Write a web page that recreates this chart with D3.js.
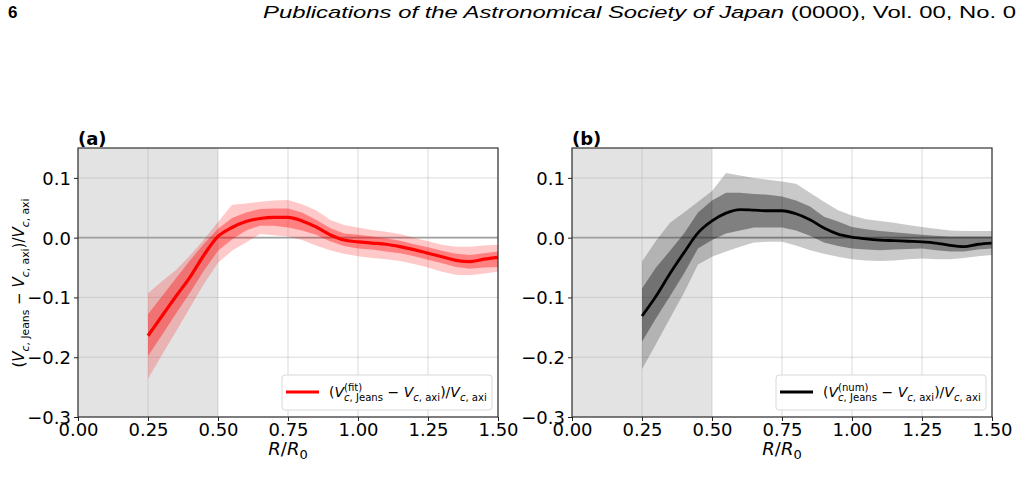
<!DOCTYPE html>
<html lang="en">
<head>
<meta charset="utf-8">
<title>Vc Jeans vs axi</title>
<script src="https://d3js.org/d3.v7.min.js"></script>
<style>
  body { margin: 0; background: #fff; }
  svg text { font-family: "DejaVu Sans", sans-serif; fill: #000; white-space: pre; }
  .hdr text { font-family: "Liberation Sans", Arial, sans-serif; }
  .axis path { display: none; }
  .axis line { stroke: #222; stroke-width: 1; }
</style>
</head>
<body>
<svg id="chart"></svg>
<script>
// ---------------- data ----------------
var rVals = [0.25,0.30,0.35,0.40,0.45,0.50,0.55,0.60,0.65,0.70,0.75,0.80,0.85,
             0.90,0.95,1.00,1.05,1.10,1.15,1.20,1.25,1.30,1.35,1.40,1.45,1.50]

// (a) fit
var fitMid   = [-0.164,-0.131,-0.098,-0.066,-0.029,0.002,0.017,0.027,0.032,0.034,0.034,0.028,0.018,
                0.005,-0.004,-0.007,-0.009,-0.011,-0.015,-0.020,-0.026,-0.032,-0.038,-0.040,-0.036,-0.033]
var fitIn1Hi = [-0.128,-0.098,-0.068,-0.038,-0.010,0.015,0.033,0.042,0.048,0.049,0.049,0.042,0.030,
                0.016,0.007,0.005,0.002,-0.001,-0.005,-0.011,-0.016,-0.022,-0.027,-0.029,-0.026,-0.023]
var fitIn1Lo = [-0.198,-0.163,-0.127,-0.092,-0.055,-0.022,-0.003,0.012,0.020,0.020,0.017,0.012,0.005,
                -0.006,-0.014,-0.018,-0.020,-0.023,-0.026,-0.031,-0.037,-0.043,-0.049,-0.052,-0.050,-0.049]
var fitIn2Hi = [-0.093,-0.073,-0.054,-0.030,-0.003,0.026,0.055,0.057,0.060,0.062,0.063,0.056,0.046,
                0.030,0.021,0.017,0.013,0.010,0.006,0.000,-0.006,-0.012,-0.015,-0.015,-0.013,-0.012]
var fitIn2Lo = [-0.236,-0.196,-0.157,-0.117,-0.077,-0.042,-0.022,-0.008,0.006,0.004,0.002,-0.004,-0.013,
                -0.021,-0.027,-0.031,-0.034,-0.036,-0.039,-0.044,-0.050,-0.057,-0.062,-0.063,-0.060,-0.057]

// (b) num
var numMid   = [-0.131,-0.098,-0.060,-0.025,0.008,0.028,0.041,0.047,0.046,0.045,0.045,0.040,0.030,
                0.016,0.006,0.001,-0.002,-0.004,-0.005,-0.006,-0.007,-0.009,-0.013,-0.015,-0.011,-0.009]
var numIn1Hi = [-0.085,-0.050,-0.022,0.007,0.042,0.062,0.075,0.075,0.073,0.072,0.069,0.062,0.052,
                0.035,0.027,0.018,0.014,0.011,0.009,0.007,0.005,0.003,0.002,0.002,0.002,0.002]
var numIn1Lo = [-0.174,-0.135,-0.098,-0.060,-0.018,-0.004,0.007,0.012,0.017,0.017,0.017,0.012,0.003,
                -0.008,-0.014,-0.018,-0.020,-0.021,-0.020,-0.019,-0.018,-0.021,-0.023,-0.023,-0.020,-0.018]
var numIn2Hi = [-0.040,-0.005,0.025,0.042,0.060,0.078,0.108,0.104,0.100,0.097,0.094,0.090,0.075,
                0.060,0.046,0.037,0.031,0.028,0.025,0.021,0.018,0.015,0.012,0.011,0.011,0.011]
var numIn2Lo = [-0.220,-0.178,-0.135,-0.092,-0.045,-0.032,-0.023,-0.015,-0.008,-0.007,-0.007,-0.013,-0.021,
                -0.027,-0.032,-0.036,-0.038,-0.039,-0.038,-0.036,-0.035,-0.036,-0.036,-0.034,-0.031,-0.029]

var xTicks = [0, 0.25, 0.5, 0.75, 1.0, 1.25, 1.5]
var yTicks = [-0.3, -0.2, -0.1, 0.0, 0.1]
var shadeRange = [0, 0.5]

// ---------------- layout ----------------
var W = 1022, H = 479
var svg = d3.select("#chart").attr("width", W).attr("height", H)

var panelTop = 148, panelBottom = 417, panelW = 420

var xFmt = d3.format(".2f")
var yFmt = d3.format(".1f")

// helper: write a run of text pieces left to right, returns total width
// piece: {t, size, dy, it} ; stack: {stack:[pieceSup, pieceSub]}
function writeRun(g, x0, y0, pieces) {
	var x = x0
	pieces.forEach(function(p) {
		var parts = p.stack ? p.stack : [p]
		var adv = 0
		parts.forEach(function(q) {
			var t = g.append("text")
				.attr("x", x).attr("y", y0 + (q.dy || 0))
				.style("font-size", q.size + "px")
			var segs = Array.isArray(q.t) ? q.t : [[q.t, q.it]]
			segs.forEach(function(s) {
				t.append("tspan").text(s[0]).style("font-style", s[1] ? "italic" : "normal")
			})
			var len = t.node().getComputedTextLength()
			adv = Math.max(adv, len)
		})
		x += adv + (p.gap || 0)
	})
	return x - x0
}

function vcLabel(size, supText) {
	var s = size * 0.72
	var out = [{t: "(", size: size}, {t: "V", it: true, size: size}]
	if (supText) {
		out.push({stack: [
			{t: supText, size: s, dy: -size * 0.45},
			{t: [["c", true], [", Jeans", false]], size: s, dy: size * 0.3}
		]})
	} else {
		out.push({t: [["c", true], [", Jeans", false]], size: s, dy: size * 0.3})
	}
	out.push({t: " \u2212 ", size: size})
	out.push({t: "V", it: true, size: size})
	out.push({t: [["c", true], [", axi", false]], size: s, dy: size * 0.3})
	out.push({t: ")/", size: size})
	out.push({t: "V", it: true, size: size})
	out.push({t: [["c", true], [", axi", false]], size: s, dy: size * 0.3})
	return out
}

function drawPanel(left, letter, mid, in1Lo, in1Hi, in2Lo, in2Hi, color, lineW, supText) {
	var x = d3.scaleLinear().domain([0, 1.5]).range([left, left + panelW])
	var y = d3.scaleLinear().domain([-0.3, 0.15]).range([panelBottom, panelTop])
	var g = svg.append("g")

	var rows = rVals.map(function(r, i) {
		return {r: r, m: mid[i], a: in1Lo[i], b: in1Hi[i], c: in2Lo[i], d: in2Hi[i]}
	})

	// shaded inner region
	g.append("rect")
		.attr("x", x(shadeRange[0])).attr("y", panelTop)
		.attr("width", x(shadeRange[1]) - x(shadeRange[0]))
		.attr("height", panelBottom - panelTop)
		.attr("fill", "#e3e3e3")

	// grid
	g.selectAll(".gx").data(xTicks).enter().append("line")
		.attr("x1", d => x(d)).attr("x2", d => x(d))
		.attr("y1", panelTop).attr("y2", panelBottom)
		.attr("stroke", "#b0b0b0").attr("stroke-opacity", 0.45).attr("stroke-width", 1)
	g.selectAll(".gy").data(yTicks).enter().append("line")
		.attr("x1", left).attr("x2", left + panelW)
		.attr("y1", d => y(d)).attr("y2", d => y(d))
		.attr("stroke", "#b0b0b0").attr("stroke-opacity", 0.45).attr("stroke-width", 1)

	// zero line
	g.append("line")
		.attr("x1", left).attr("x2", left + panelW)
		.attr("y1", y(0)).attr("y2", y(0))
		.attr("stroke", "#a0a0a0").attr("stroke-width", 1.6)

	// bands
	var band2 = d3.area().x(d => x(d.r)).y0(d => y(d.c)).y1(d => y(d.d))
	var band1 = d3.area().x(d => x(d.r)).y0(d => y(d.a)).y1(d => y(d.b))
	g.append("path").attr("d", band2(rows)).attr("fill", color).attr("fill-opacity", 0.21)
	g.append("path").attr("d", band1(rows)).attr("fill", color).attr("fill-opacity", 0.36)

	// line
	var line = d3.line().curve(d3.curveMonotoneX).x(d => x(d.r)).y(d => y(d.m))
	g.append("path").attr("d", line(rows))
		.attr("fill", "none").attr("stroke", color).attr("stroke-width", lineW)

	// frame
	g.append("rect")
		.attr("x", left).attr("y", panelTop)
		.attr("width", panelW).attr("height", panelBottom - panelTop)
		.attr("fill", "none").attr("stroke", "#333").attr("stroke-width", 1.2)

	// axes
	var xa = g.append("g").attr("class", "axis")
		.attr("transform", "translate(0," + panelBottom + ")")
		.call(d3.axisBottom(x).tickValues(xTicks).tickFormat(xFmt).tickSize(4).tickPadding(2))
	xa.selectAll("text").style("font-size", "18px").attr("fill", "#000")
	var ya = g.append("g").attr("class", "axis")
		.attr("transform", "translate(" + left + ",0)")
		.call(d3.axisLeft(y).tickValues(yTicks).tickFormat(yFmt).tickSize(4).tickPadding(3))
	ya.selectAll("text").style("font-size", "18px").attr("fill", "#000").attr("dy", "0.36em")

	// panel letter
	g.append("text").attr("x", left).attr("y", panelTop - 3)
		.style("font-size", "18px").style("font-weight", "bold").text(letter)

	// x label R/R0
	var xl = g.append("g")
	var wx = writeRun(xl, 0, 0, [
		{t: "R", it: true, size: 18}, {t: "/", size: 18}, {t: "R", it: true, size: 18},
		{t: "0", size: 13, dy: 4}
	])
	xl.attr("transform", "translate(" + (x(0.75) - wx / 2) + ",455)")

	// legend
	var lg = g.append("g")
	var lx = x(1.5) - 216, ly = 375
	lg.append("rect").attr("x", lx).attr("y", ly).attr("width", 210).attr("height", 35)
		.attr("rx", 3).attr("fill", "#fff").attr("fill-opacity", 0.85)
		.attr("stroke", "#d8d8d8").attr("stroke-width", 1)
	lg.append("line").attr("x1", lx + 4).attr("x2", lx + 37).attr("y1", ly + 17).attr("y2", ly + 17)
		.attr("stroke", color).attr("stroke-width", lineW)
	var lt = lg.append("g")
	writeRun(lt, lx + 47, ly + 22, vcLabel(14, supText))

	return {x: x, y: y}
}

drawPanel(78, "(a)", fitMid, fitIn1Lo, fitIn1Hi, fitIn2Lo, fitIn2Hi, "#ff0000", 3.2, "(fit)")
drawPanel(572, "(b)", numMid, numIn1Lo, numIn1Hi, numIn2Lo, numIn2Hi, "#000000", 2.8, "(num)")

// y label, panel (a) only
var yl = svg.append("g")
var wy = writeRun(yl, 0, 0, vcLabel(15, null))
yl.attr("transform", "translate(24," + (283 + wy / 2) + ") rotate(-90)")

// page header
var hdr = svg.append("g").attr("class", "hdr")
hdr.append("text").attr("x", 8).attr("y", 18)
	.style("font-size", "17px").style("font-weight", "bold").text("6")
var ht = hdr.append("text").attr("x", 263).attr("y", 18)
	.style("font-size", "17px")
	.attr("textLength", 753).attr("lengthAdjust", "spacingAndGlyphs")
ht.append("tspan").style("font-style", "italic").text("Publications of the Astronomical Society of Japan")
ht.append("tspan").text(" (0000), Vol. 00, No. 0")
</script>
</body>
</html>
